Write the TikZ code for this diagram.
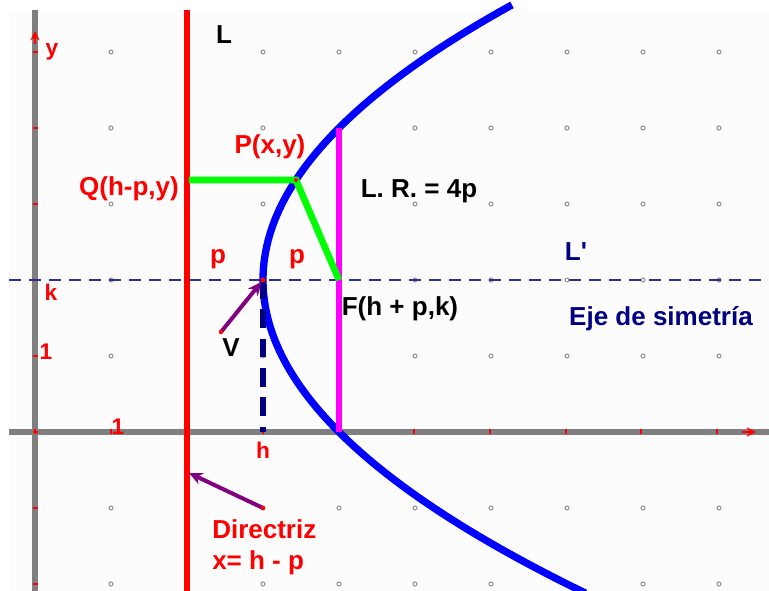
\documentclass[tikz,border=0pt]{standalone}
\usepackage{fontspec}
\setmainfont{Liberation Sans}
\usetikzlibrary{arrows.meta}
\definecolor{axgray}{HTML}{808080}
\definecolor{pred}{HTML}{FF0000}
\definecolor{pgreen}{HTML}{00FF00}
\definecolor{pmag}{HTML}{FF00FF}
\definecolor{pblue}{HTML}{0000FF}
\definecolor{pnavy}{HTML}{000080}
\definecolor{pdash}{HTML}{2E2E8F}
\definecolor{ppurple}{HTML}{800080}
\definecolor{dotgray}{HTML}{999999}
\definecolor{plotbg}{HTML}{FCFCFC}
\begin{document}
\begin{tikzpicture}[x=0.75pt,y=-0.75pt,
  lbl/.style={font=\fontsize{19.5}{22}\selectfont\bfseries, inner sep=0pt, anchor=base},
  axlbl/.style={font=\fontsize{17}{20}\selectfont\bfseries, inner sep=0pt, anchor=base, text=pred},
  axisline/.style={draw=axgray, line width=5},
  tickmark/.style={draw=pred, line width=1.6},
  gdot/.style={draw=dotgray, line width=0.8},
  pointer/.style={draw=ppurple, line width=3, -{Stealth[length=10,width=9]}},
  redpt/.style={fill=pred}
]
\useasboundingbox (0,0) rectangle (769,591);
\fill[plotbg] (9,10) rectangle (769,591);

% grid dots
\foreach \i in {0,...,8}{
  \foreach \j in {0,1,2,3,4,6,7}{
    \draw[gdot] ({111+76*\i},{52+76*\j}) circle (2);
  }
}

% axes
\coordinate (ytop) at (35,10);
\coordinate (ybot) at (35,591);
\coordinate (xl) at (9,432);
\coordinate (xr) at (769,432);
\draw[axisline] (ytop) -- (ybot);
\draw[axisline] (xl) -- (xr);
\foreach \y in {52,128,204,280,356,432,508,584}{
  \draw[tickmark] (32.5,\y) -- (37.5,\y);
}
\foreach \x in {35,111,187,263,339,414,490,566,641,717}{
  \draw[tickmark] (\x,429.5) -- (\x,434.5);
}
\coordinate (yarA) at (35,44);
\coordinate (yarB) at (35,31);
\coordinate (xarA) at (742,432);
\coordinate (xarB) at (756,432);
\draw[draw=pred, line width=1.2, -{Stealth[length=7,width=7]}] (yarA) -- (yarB);
\draw[draw=pred, line width=1.2, -{Stealth[length=7,width=7]}] (xarA) -- (xarB);

% axis of symmetry L'
\coordinate (Ll) at (9,280);
\coordinate (Lr) at (769,280);
\draw[draw=pdash, line width=1.4, dash pattern=on 9 off 6] (Ll) -- (Lr);

% directrix
\coordinate (Dtop) at (187,10);
\coordinate (Dbot) at (187,591);
\draw[draw=pred, line width=5] (Dtop) -- (Dbot);

% key points
\coordinate (V) at (263,280);
\coordinate (F) at (339,280);
\coordinate (P) at (296,180);
\coordinate (Q) at (189,180);
\coordinate (H) at (263,432);
\coordinate (LRtop) at (339,128);
\coordinate (LRbot) at (339,432);

% parabola
\begin{scope}
\clip (0,0) rectangle (769,591);
\draw[draw=pblue, line width=5.5] plot[domain=-3.62:4.12, samples=140, smooth] ({263+19*\x*\x},{280+76*\x});
\end{scope}

% latus rectum
\draw[draw=pmag, line width=4] (LRtop) -- (LRbot);
% dashed from vertex to h
\draw[draw=pnavy, line width=5, dash pattern=on 14 off 8] (V) -- (H);
% green segments
\draw[draw=pgreen, line width=5] (Q) -- (P) -- (F);

% pointers
\coordinate (Vs) at (221,332);
\coordinate (Ds) at (263,508);
\coordinate (Dt) at (189,473);
\draw[pointer, shorten >=2] (Vs) -- (V);
\draw[pointer] (Ds) -- (Dt);
\fill[redpt] (Vs) circle (2.2);
\fill[redpt] (Ds) circle (2.2);
\fill[redpt] (V) circle (2.5);
\fill[redpt] (P) circle (2);

% labels
\node[lbl, text=black] (tL) at (224,44) {L};
\node[axlbl] (ty) at (52,56) {y};
\node[lbl, text=pred] (tQ) at (129,196) {Q(h-p,y)};
\node[lbl, text=pred] (tP) at (270,154) {P(x,y)};
\node[lbl, text=black] (tLR) at (419,198) {L. R. = 4p};
\node[lbl, text=pred] (tp1) at (218,264) {p};
\node[lbl, text=pred] (tp2) at (297,264) {p};
\node[lbl, text=pnavy] (tLp) at (576,261) {L\textquotesingle};
\node[lbl, text=black] (tF) at (400,316) {F(h + p,k)};
\node[lbl, text=pnavy] (tEje) at (661,326) {Eje de simetría};
\node[axlbl] (tk) at (51,301) {k};
\node[axlbl] (t1y) at (46,360) {1};
\node[axlbl] (t1x) at (118,435) {1};
\node[lbl, text=black] (tV) at (231,357) {V};
\node[axlbl] (th) at (263,459) {h};
\node[lbl, text=pred, anchor=base west] (tDir) at (212,539) {Directriz};
\node[lbl, text=pred, anchor=base west] (tEq) at (212,570) {x= h - p};
\end{tikzpicture}
\end{document}
